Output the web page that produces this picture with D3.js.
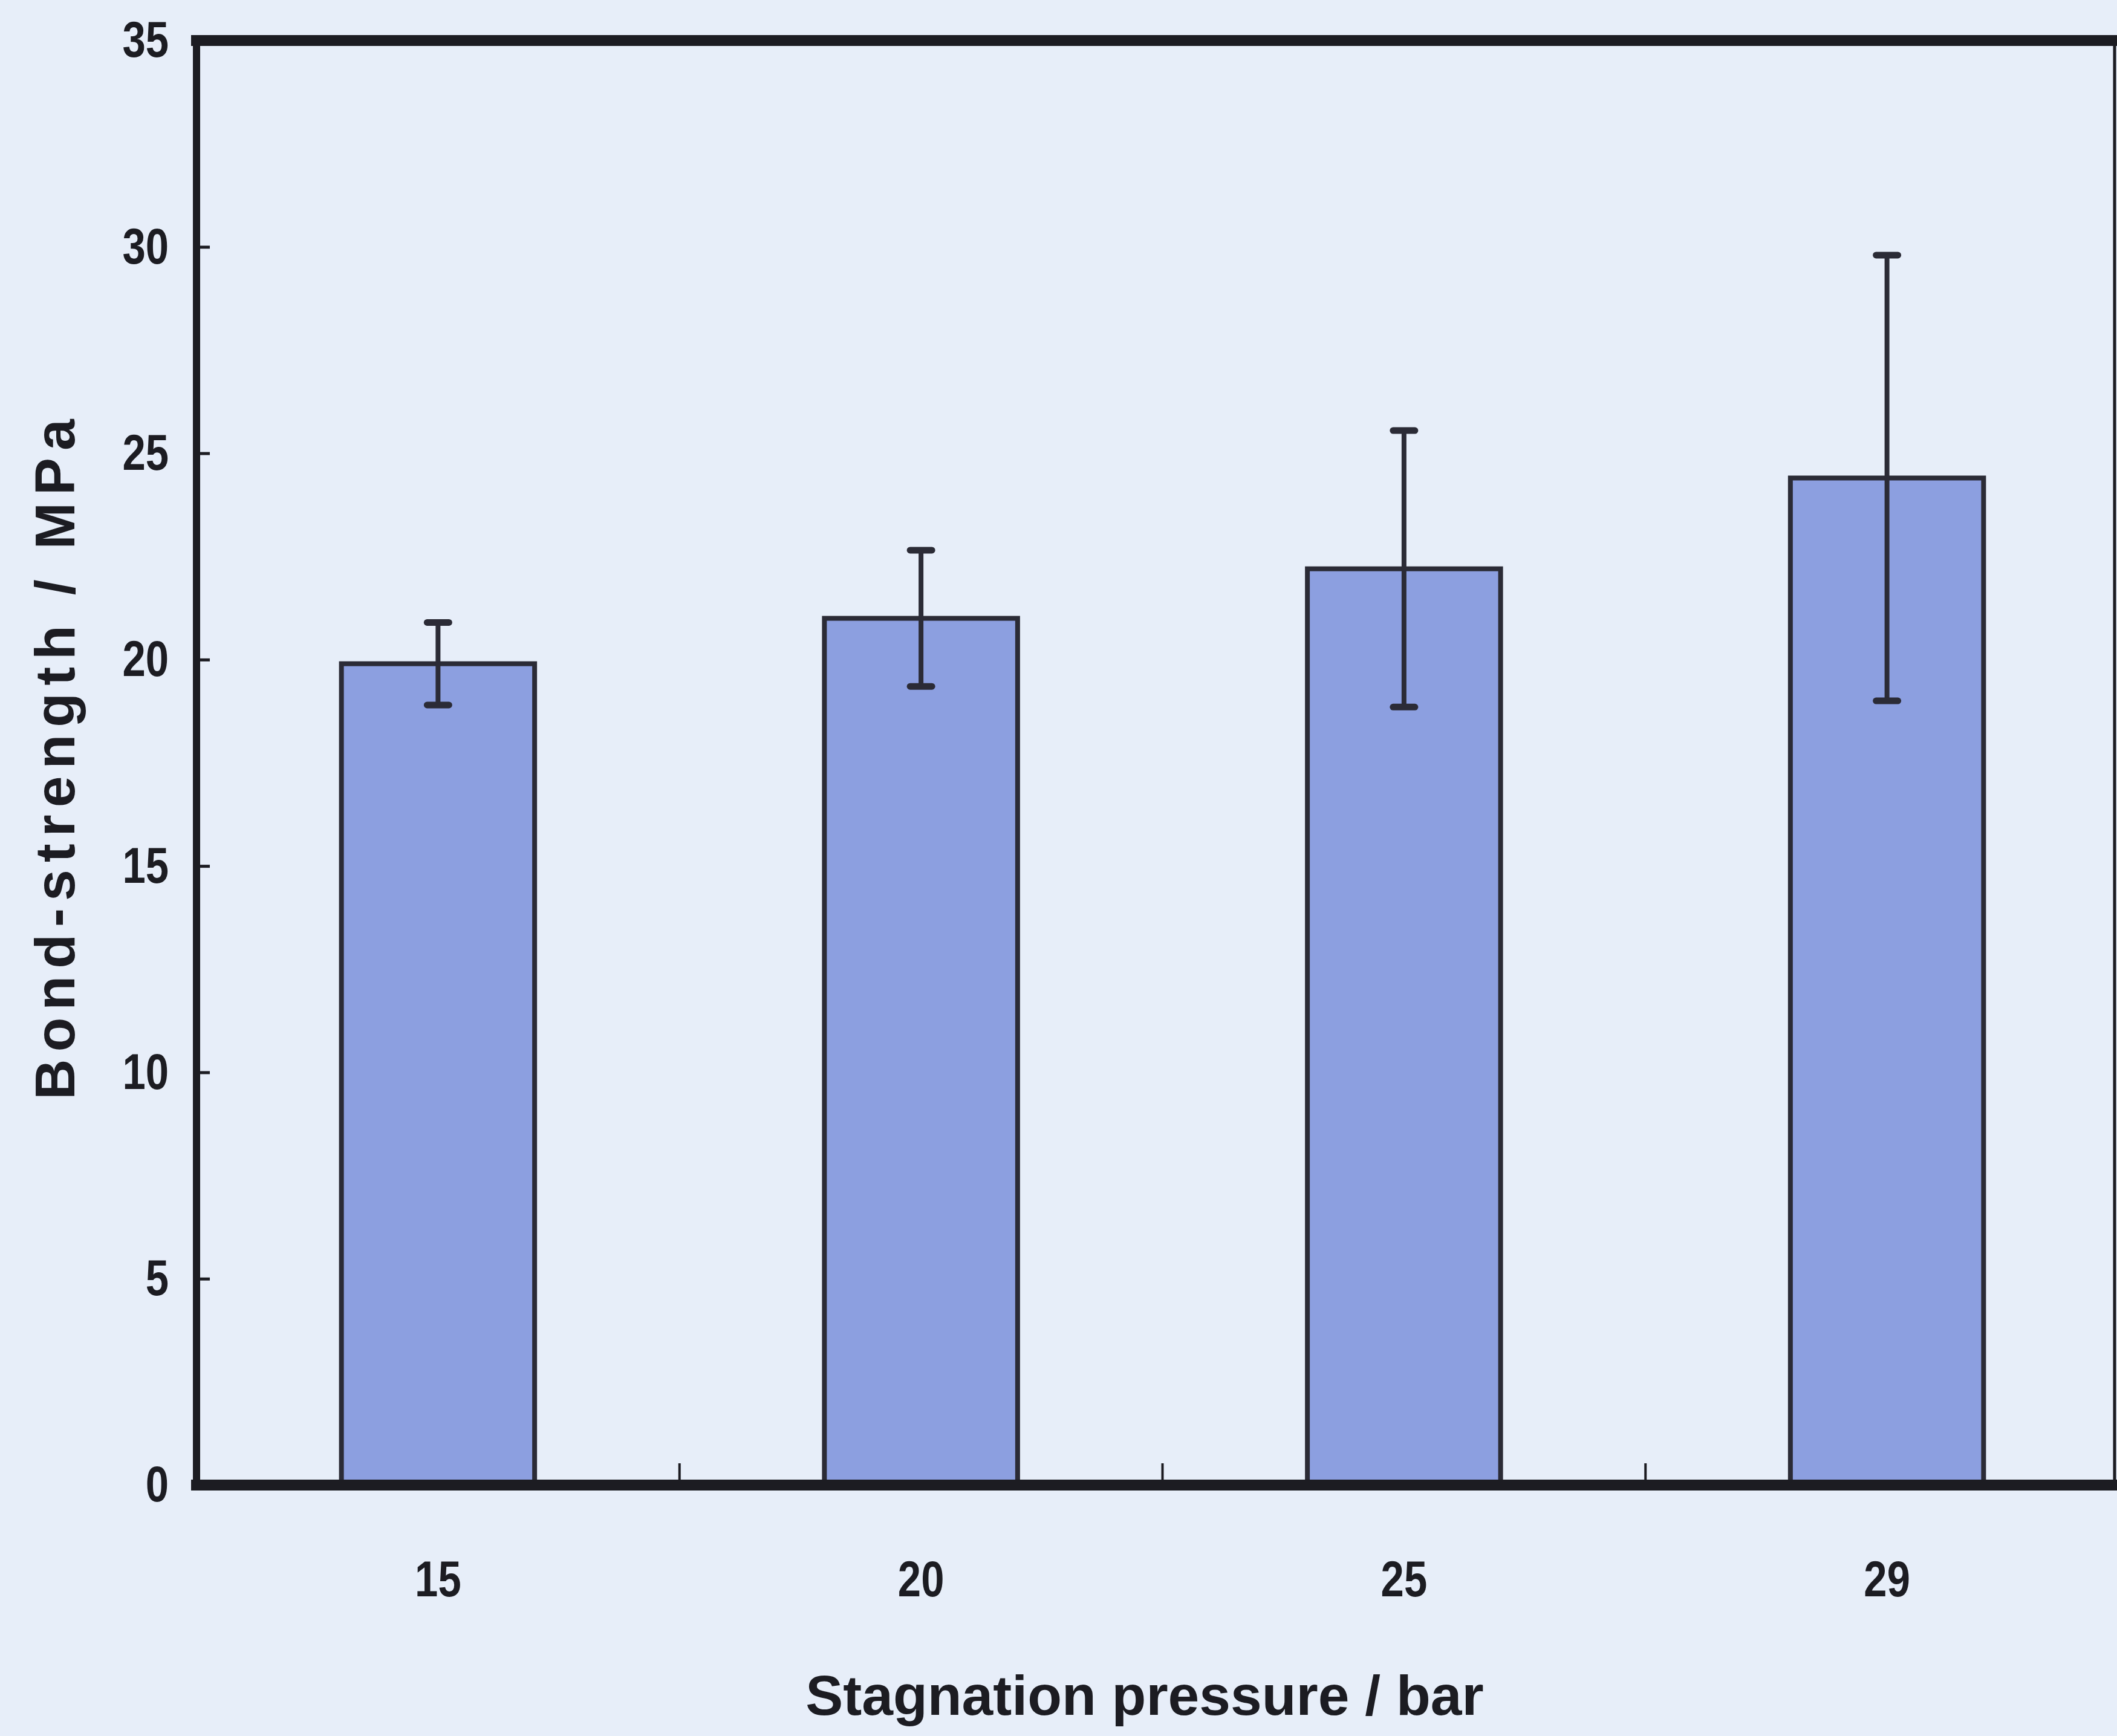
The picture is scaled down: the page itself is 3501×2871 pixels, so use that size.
<!DOCTYPE html>
<meta charset="utf-8">
<script src="https://cdn.jsdelivr.net/npm/d3@7"></script>

<style>
  body {
    margin: 0;
    background-color: #e7eef9;
  }
  text {
    font-family: "Liberation Sans", Arial, sans-serif;
    font-weight: bold;
    fill: #1c1c22;
  }
</style>

<div id="chart"></div>

<script>
// values
var pressures = ["15", "20", "25", "29"];
var strength = [19.9, 21.0, 22.2, 24.4];
var errBar = [1.0, 1.65, 3.35, 5.4];
var yTicks = [0, 5, 10, 15, 20, 25, 30, 35];

var data = pressures.map(function(p, i) {
  return {p: p, v: strength[i], e: errBar[i]};
});

var W = 3501, H = 2871;
// note: can't call it "top", that's window.top
var m = {left: 325, right: 3520, top: 67, bottom: 2456};
var ink = "#1c1c22";

var svg = d3.select("#chart")
  .append("svg")
    .attr("width", W)
    .attr("height", H);

svg.append("rect")
  .attr("width", W).attr("height", H)
  .attr("fill", "#e7eef9");

var x = d3.scaleBand()
  .domain(pressures)
  .range([m.left, m.right])
  .paddingInner(0.6)
  .paddingOuter(0.3);

var y = d3.scaleLinear()
  .domain([0, 35])
  .range([m.bottom, m.top]);

// bars
svg.selectAll(".bar")
  .data(data)
  .enter()
  .append("rect")
    .attr("class", "bar")
    .attr("x", function(d) { return x(d.p); })
    .attr("y", function(d) { return y(d.v); })
    .attr("width", x.bandwidth())
    .attr("height", function(d) { return y(0) - y(d.v); })
    .attr("fill", "#8c9fe0")
    .attr("stroke", "#2b2b36")
    .attr("stroke-width", 8);

// error bars
var cx = function(d) { return x(d.p) + x.bandwidth() / 2; };
var err = svg.selectAll(".err")
  .data(data)
  .enter()
  .append("g")
    .attr("class", "err")
    .attr("stroke", "#2b2b36");

err.append("line")
  .attr("x1", cx).attr("x2", cx)
  .attr("y1", function(d) { return y(d.v + d.e); })
  .attr("y2", function(d) { return y(d.v - d.e); })
  .attr("stroke-width", 8);

[1, -1].forEach(function(s) {
  err.append("line")
    .attr("x1", function(d) { return cx(d) - 18; })
    .attr("x2", function(d) { return cx(d) + 18; })
    .attr("y1", function(d) { return y(d.v + s * d.e); })
    .attr("y2", function(d) { return y(d.v + s * d.e); })
    .attr("stroke-width", 11)
    .attr("stroke-linecap", "round");
});

// y axis, ticks point inward
var yAxis = svg.append("g")
  .attr("transform", "translate(" + m.left + ",0)")
  .call(d3.axisLeft(y)
    .tickValues(yTicks)
    .tickSizeInner(-22)
    .tickSizeOuter(0)
    .tickPadding(46));
yAxis.select(".domain").remove();
yAxis.selectAll(".tick line").attr("stroke", ink).attr("stroke-width", 5);
// squeeze the digits a bit, the original font is narrower
yAxis.selectAll(".tick text")
  .attr("font-size", 84)
  .attr("x", -46 / 0.82)
  .attr("transform", "scale(0.82,1)")
  .style("fill", ink);

// x axis, labels at category centres
var xAxis = svg.append("g")
  .attr("transform", "translate(0," + m.bottom + ")")
  .call(d3.axisBottom(x).tickSize(0).tickPadding(124));
xAxis.select(".domain").remove();
xAxis.selectAll(".tick text")
  .attr("font-size", 84)
  .attr("transform", "scale(0.82,1)")
  .style("fill", ink);

// x ticks between categories
svg.selectAll(".xsep")
  .data(pressures.slice(0, -1))
  .enter()
  .append("line")
    .attr("x1", function(d) { return x(d) + x.bandwidth() / 2 + x.step() / 2; })
    .attr("x2", function(d) { return x(d) + x.bandwidth() / 2 + x.step() / 2; })
    .attr("y1", m.bottom)
    .attr("y2", m.bottom - 36)
    .attr("stroke", ink)
    .attr("stroke-width", 4);

// frame
var frame = svg.append("g").attr("stroke", ink).attr("stroke-linecap", "square");
frame.append("line").attr("x1", m.left).attr("x2", W).attr("y1", m.top).attr("y2", m.top).attr("stroke-width", 18);
frame.append("line").attr("x1", m.left).attr("x2", m.left).attr("y1", m.top).attr("y2", m.bottom).attr("stroke-width", 12);
frame.append("line").attr("x1", m.left).attr("x2", W).attr("y1", m.bottom).attr("y2", m.bottom).attr("stroke-width", 18);
frame.append("line").attr("x1", W - 4).attr("x2", W - 4).attr("y1", m.top).attr("y2", m.bottom).attr("stroke-width", 5);

// axis titles
svg.append("text")
  .attr("x", 1893)
  .attr("y", 2836)
  .attr("text-anchor", "middle")
  .attr("font-size", 93)
  .text("Stagnation pressure / bar");

svg.append("text")
  .attr("transform", "translate(123,1250) rotate(-90)")
  .attr("text-anchor", "middle")
  .attr("font-size", 93)
  .attr("letter-spacing", 12)
  .text("Bond-strength / MPa");
</script>
